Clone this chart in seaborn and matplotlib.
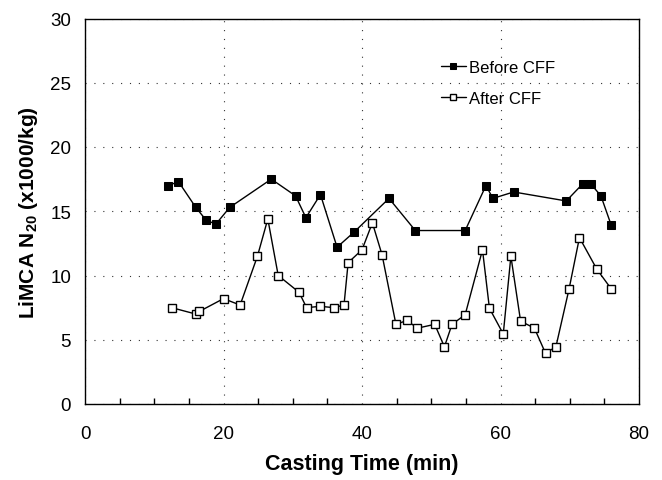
import matplotlib
matplotlib.use("Agg")
import matplotlib.pyplot as plt
from matplotlib.ticker import MultipleLocator
import seaborn as sns
import pandas as pd

# LiMCA N20 inclusion counts during casting, before and after the ceramic foam filter
before_time = [12.0, 13.5, 16.0, 17.5, 18.9, 20.9, 26.9, 30.4, 31.9, 34.0, 36.4,
               38.9, 43.9, 47.7, 54.9, 57.9, 58.9, 61.9, 69.5, 71.9, 73.0, 74.5, 76.0]
before_n20 = [17.0, 17.3, 15.3, 14.3, 14.0, 15.3, 17.5, 16.2, 14.5, 16.3, 12.2,
              13.4, 16.0, 13.5, 13.5, 17.0, 16.0, 16.5, 15.8, 17.15, 17.15, 16.2, 13.9]

after_time = [12.5, 16.0, 16.5, 20.0, 22.4, 24.9, 26.4, 27.9, 30.9, 32.0, 34.0,
              35.9, 37.4, 38.0, 40.0, 41.5, 42.9, 44.9, 46.5, 48.0, 50.5, 51.9,
              53.0, 54.9, 57.4, 58.4, 60.4, 61.5, 62.9, 64.9, 66.5, 68.0, 69.9,
              71.4, 73.9, 76.0]
after_n20 = [7.5, 7.0, 7.2, 8.2, 7.7, 11.5, 14.4, 10.0, 8.7, 7.5, 7.6,
             7.5, 7.7, 11.0, 12.0, 14.1, 11.6, 6.2, 6.5, 5.9, 6.2, 4.45,
             6.2, 6.95, 12.0, 7.45, 5.45, 11.5, 6.45, 5.9, 3.95, 4.45, 8.95,
             12.95, 10.5, 8.95]

series_labels = ["Before CFF", "After CFF"]

sns.set_theme(style="white")
plt.rcParams["font.family"] = ["Liberation Sans", "DejaVu Sans"]
plt.rcParams["mathtext.fontset"] = "custom"
plt.rcParams["mathtext.bf"] = "Liberation Sans:bold"
plt.rcParams["mathtext.rm"] = "Liberation Sans"

df_before = pd.DataFrame({"time": before_time, "n20": before_n20})
df_after = pd.DataFrame({"time": after_time, "n20": after_n20})

fig = plt.figure(figsize=(6.62, 4.81), dpi=100)
ax = fig.add_axes([85 / 662, 1 - 405 / 481, 554 / 662, 385.5 / 481])

sns.lineplot(data=df_before, x="time", y="n20", ax=ax, estimator=None, sort=False,
             color="black", lw=1.0, marker="s", ms=5.5, mfc="black", mec="black",
             label=series_labels[0])
sns.lineplot(data=df_after, x="time", y="n20", ax=ax, estimator=None, sort=False,
             color="black", lw=1.0, marker="s", ms=5.5, mfc="white", mec="black",
             mew=1.0, label=series_labels[1])

ax.set_xlim(0, 80)
ax.set_ylim(0, 30)
ax.xaxis.set_major_locator(MultipleLocator(20))
ax.xaxis.set_minor_locator(MultipleLocator(5))
ax.yaxis.set_major_locator(MultipleLocator(5))

ax.grid(True, which="major", axis="both", color="#333333", linestyle=(0, (1, 7)),
        linewidth=0.8)
ax.set_axisbelow(True)

for s in ax.spines.values():
    s.set_visible(True)
    s.set_color("black")
    s.set_linewidth(1.0)

ax.tick_params(axis="y", which="major", direction="out", length=5, width=1,
               labelsize=13.5, color="black", labelcolor="black", pad=5)
ax.tick_params(axis="x", which="major", direction="inout", length=8, width=1,
               labelsize=13.5, color="black", labelcolor="black", pad=11)
ax.tick_params(axis="x", which="minor", direction="in", length=4, width=1,
               color="black", bottom=True)

ax.set_xlabel("Casting Time (min)", fontsize=15.5, fontweight="bold", labelpad=8,
              color="black")
ax.set_ylabel("LiMCA N$_{\\mathbf{20}}$ (x1000/kg)", fontsize=15, fontweight="bold",
              labelpad=7, color="black")

leg = ax.legend(loc="upper left", bbox_to_anchor=(0.642, 0.893), frameon=False,
                fontsize=12, handlelength=1.5, handletextpad=0.2, labelspacing=0.95,
                borderaxespad=0, borderpad=0, markerscale=0.8)
for t in leg.get_texts():
    t.set_color("black")

fig.savefig("out.png", dpi=100)
